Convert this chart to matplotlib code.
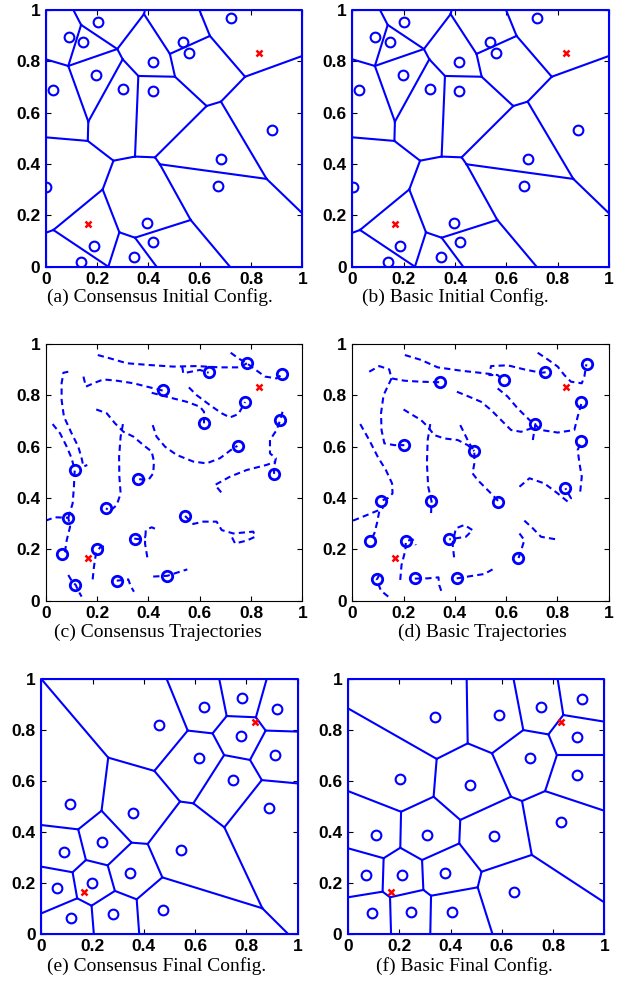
"""
Six-panel comparison of consensus vs. basic coverage control:
initial Voronoi configuration, agent trajectories, final Voronoi configuration.
"""

import matplotlib
matplotlib.use("Agg")
import matplotlib.pyplot as plt

BLUE = "#0000ff"
RED = "#ff0000"

# red x markers (same in every panel)
TARGET_X = [0.166, 0.833]
TARGET_Y = [0.166, 0.833]

# initial agent positions (a), (b)
INIT_X = [0.090, 0.147, 0.203, 0.027, 0.197, 0.301, 0.417, 0.417, 0.536, 0.558,
          0.721, 0.881, 0.684, 0.670, 0.003, 0.187, 0.138, 0.345, 0.418, 0.396]
INIT_Y = [0.894, 0.874, 0.955, 0.688, 0.748, 0.691, 0.799, 0.684, 0.877, 0.831,
          0.968, 0.532, 0.419, 0.314, 0.309, 0.082, 0.017, 0.038, 0.096, 0.169]

# final agent positions, consensus (c), (e)
CONS_X = [0.784, 0.920, 0.636, 0.459, 0.777, 0.616, 0.913, 0.748, 0.890, 0.113,
          0.358, 0.235, 0.544, 0.087, 0.347, 0.198, 0.063, 0.116, 0.279, 0.473]
CONS_Y = [0.926, 0.884, 0.890, 0.819, 0.776, 0.692, 0.703, 0.604, 0.494, 0.510,
          0.474, 0.360, 0.330, 0.322, 0.242, 0.201, 0.181, 0.062, 0.078, 0.096]

# final agent positions, basic (d), (f)
BASIC_X = [0.914, 0.753, 0.590, 0.341, 0.892, 0.712, 0.892, 0.201, 0.476, 0.830,
           0.110, 0.308, 0.569, 0.070, 0.210, 0.378, 0.648, 0.095, 0.246, 0.407]
BASIC_Y = [0.922, 0.891, 0.858, 0.853, 0.774, 0.689, 0.624, 0.608, 0.584, 0.438,
           0.389, 0.389, 0.386, 0.233, 0.233, 0.240, 0.166, 0.083, 0.087, 0.088]

# Voronoi vertices / edges of the initial configuration
VOR_INIT_X = [0.108, 0.138, 0.088, 0.0, 0.279, 0.300, 0.383, 0.387, 0.484, 0.504,
              0.361, 0.348, 0.426, 0.264, 0.166, 0.164, 0.0, 0.627, 0.683, 0.777,
              1.0, 0.640, 0.599, 0.861, 1.0, 0.445, 0.565, 0.718, 0.348, 0.287,
              0.432, 0.244, 0.222, 0.030, 0.0]
VOR_INIT_Y = [1.0, 0.942, 0.782, 0.808, 0.848, 0.808, 0.984, 1.0, 0.829, 0.740,
              0.743, 0.429, 0.426, 0.413, 0.565, 0.490, 0.504, 0.626, 0.643, 0.740,
              0.821, 0.899, 1.0, 0.342, 0.208, 0.399, 0.182, 0.0, 0.113, 0.134,
              0.0, 0.0, 0.301, 0.143, 0.132]
VOR_INIT_EDGES = [(0, 1), (1, 2), (2, 3), (1, 4), (2, 4), (4, 6), (6, 7), (4, 5),
                  (5, 10), (5, 14), (2, 14), (14, 15), (15, 16), (15, 13), (13, 11),
                  (11, 12), (11, 10), (10, 9), (9, 8), (8, 6), (8, 21), (21, 22),
                  (21, 19), (19, 20), (19, 18), (18, 17), (17, 9), (17, 12), (12, 25),
                  (18, 23), (23, 24), (23, 25), (25, 26), (26, 27), (26, 28), (28, 29),
                  (28, 30), (29, 31), (29, 32), (32, 13), (32, 33), (33, 34), (33, 31)]

# Voronoi of consensus final configuration
VOR_CONS_X = [0.0, 0.261, 0.441, 0.571, 0.489, 0.668, 0.723, 0.694, 0.837, 0.879,
              0.875, 1.0, 0.814, 0.713, 0.860, 1.0, 0.714, 0.593, 0.541, 0.415,
              0.352, 0.235, 0.144, 0.0, 0.174, 0.259, 0.122, 0.0, 0.140, 0.0,
              0.196, 0.205, 0.287, 0.372, 0.382, 0.472, 0.862, 0.964]
VOR_CONS_Y = [1.0, 0.692, 0.640, 0.798, 1.0, 0.787, 0.855, 1.0, 0.850, 1.0,
              0.798, 0.794, 0.683, 0.702, 0.604, 0.591, 0.419, 0.513, 0.520, 0.354,
              0.359, 0.484, 0.411, 0.428, 0.291, 0.270, 0.243, 0.265, 0.141, 0.082,
              0.112, 0.0, 0.170, 0.137, 0.0, 0.223, 0.102, 0.0]
VOR_CONS_EDGES = [(0, 1), (1, 2), (2, 3), (3, 4), (3, 5), (5, 6), (6, 7), (6, 8),
                  (8, 9), (8, 10), (10, 11), (10, 12), (5, 13), (13, 12), (12, 14),
                  (14, 15), (14, 16), (16, 17), (17, 13), (17, 18), (18, 2), (18, 19),
                  (16, 36), (36, 37), (36, 35), (35, 19), (35, 33), (33, 34), (33, 32),
                  (32, 25), (32, 30), (30, 31), (30, 28), (28, 29), (28, 26), (26, 27),
                  (26, 24), (24, 25), (24, 22), (22, 23), (22, 21), (21, 1), (21, 20),
                  (20, 19), (20, 25)]

# Voronoi of basic final configuration
VOR_BASIC_X = [0.0, 0.346, 0.463, 0.467, 0.562, 0.646, 0.684, 0.818, 0.840, 1.0,
               0.782, 0.815, 1.0, 0.769, 1.0, 0.679, 0.636, 0.334, 0.438, 0.207,
               0.0, 0.204, 0.139, 0.0, 0.289, 0.434, 0.521, 0.717, 1.0, 0.506,
               0.564, 0.324, 0.321, 0.294, 0.164, 0.168, 0.135, 0.0]
VOR_BASIC_Y = [0.885, 0.687, 1.0, 0.748, 0.709, 1.0, 0.800, 1.0, 0.859, 0.833,
               0.783, 0.702, 0.702, 0.561, 0.484, 0.522, 0.539, 0.539, 0.448, 0.480,
               0.561, 0.339, 0.298, 0.337, 0.291, 0.356, 0.245, 0.311, 0.125, 0.184,
               0.0, 0.151, 0.0, 0.174, 0.145, 0.0, 0.167, 0.145]
VOR_BASIC_EDGES = [(0, 1), (1, 3), (3, 2), (3, 4), (4, 6), (6, 5), (6, 10), (10, 8),
                   (8, 7), (8, 9), (10, 11), (11, 12), (11, 13), (13, 14), (13, 15),
                   (15, 16), (16, 4), (16, 18), (18, 17), (17, 1), (17, 19), (19, 20),
                   (19, 21), (21, 22), (22, 23), (22, 36), (21, 24), (24, 25), (25, 18),
                   (25, 26), (26, 29), (26, 27), (27, 15), (27, 28), (29, 30), (29, 31),
                   (31, 32), (31, 33), (33, 24), (33, 34), (34, 35), (34, 36), (36, 37)]

# trajectories, consensus (c): list of (xs, ys)
CONS_TRAJ = [
    ([0.203, 0.251, 0.316, 0.406, 0.497, 0.588, 0.679, 0.757, 0.784],
     [0.957, 0.944, 0.925, 0.918, 0.912, 0.914, 0.909, 0.909, 0.925]),
    ([0.721, 0.751, 0.784, 0.816, 0.855, 0.900, 0.922],
     [0.966, 0.944, 0.925, 0.901, 0.873, 0.866, 0.882]),
    ([0.088, 0.069, 0.062, 0.062, 0.071, 0.101, 0.127, 0.140, 0.147, 0.162],
     [0.892, 0.888, 0.847, 0.782, 0.717, 0.652, 0.600, 0.555, 0.522, 0.529]),
    ([0.027, 0.056, 0.082, 0.101, 0.113, 0.110, 0.105, 0.088],
     [0.688, 0.652, 0.600, 0.555, 0.509, 0.444, 0.379, 0.323]),
    ([0.000, 0.036, 0.088, 0.095, 0.082, 0.075, 0.062],
     [0.312, 0.325, 0.323, 0.288, 0.236, 0.191, 0.181]),
    ([0.147, 0.157, 0.186, 0.225, 0.277, 0.342, 0.394, 0.458],
     [0.873, 0.834, 0.847, 0.862, 0.857, 0.847, 0.834, 0.818]),
    ([0.413, 0.497, 0.549, 0.601, 0.617, 0.617],
     [0.810, 0.788, 0.775, 0.756, 0.736, 0.691]),
    ([0.558, 0.588, 0.640, 0.686, 0.718, 0.751, 0.777],
     [0.831, 0.801, 0.762, 0.730, 0.714, 0.727, 0.774]),
    ([0.532, 0.536, 0.601, 0.635],
     [0.912, 0.886, 0.899, 0.888]),
    ([0.197, 0.238, 0.270, 0.303, 0.342, 0.381, 0.413, 0.422, 0.419, 0.400, 0.358],
     [0.745, 0.730, 0.691, 0.658, 0.639, 0.606, 0.581, 0.542, 0.496, 0.470, 0.474]),
    ([0.301, 0.292, 0.286, 0.287, 0.292, 0.277, 0.251, 0.235],
     [0.688, 0.639, 0.561, 0.483, 0.418, 0.373, 0.349, 0.360]),
    ([0.417, 0.432, 0.465, 0.510, 0.575, 0.627, 0.679, 0.731, 0.747],
     [0.684, 0.639, 0.600, 0.568, 0.542, 0.535, 0.555, 0.594, 0.603]),
    ([0.923, 0.913, 0.900, 0.874, 0.874, 0.897, 0.890, 0.890],
     [0.736, 0.701, 0.665, 0.626, 0.574, 0.555, 0.522, 0.494]),
    ([0.684, 0.660, 0.718, 0.783, 0.861, 0.897],
     [0.422, 0.451, 0.483, 0.509, 0.529, 0.542]),
    ([0.543, 0.575, 0.614, 0.666, 0.686, 0.731, 0.809, 0.816, 0.783, 0.738, 0.725],
     [0.330, 0.299, 0.308, 0.308, 0.275, 0.262, 0.269, 0.249, 0.234, 0.223, 0.249]),
    ([0.396, 0.387, 0.390, 0.413, 0.439],
     [0.169, 0.223, 0.275, 0.286, 0.275]),
    ([0.345, 0.368, 0.390],
     [0.242, 0.239, 0.249]),
    ([0.419, 0.474, 0.523, 0.552],
     [0.094, 0.097, 0.113, 0.122]),
    ([0.183, 0.188, 0.196, 0.212, 0.238],
     [0.083, 0.132, 0.184, 0.208, 0.214]),
    ([0.088, 0.101, 0.117, 0.129, 0.140],
     [0.100, 0.078, 0.061, 0.035, 0.016]),
    ([0.277, 0.322, 0.331, 0.344],
     [0.078, 0.083, 0.057, 0.035]),
]

# trajectories, basic (d)
BASIC_TRAJ = [
    ([0.205, 0.268, 0.333, 0.424, 0.515, 0.567, 0.590],
     [0.957, 0.938, 0.909, 0.896, 0.886, 0.879, 0.857]),
    ([0.550, 0.534, 0.541, 0.606, 0.671, 0.736, 0.756],
     [0.879, 0.879, 0.914, 0.917, 0.901, 0.888, 0.890]),
    ([0.723, 0.762, 0.801, 0.827, 0.853, 0.895, 0.905, 0.913],
     [0.966, 0.940, 0.912, 0.879, 0.853, 0.847, 0.873, 0.921]),
    ([0.066, 0.105, 0.144, 0.153, 0.203, 0.268, 0.343],
     [0.892, 0.914, 0.901, 0.866, 0.857, 0.853, 0.851]),
    ([0.153, 0.122, 0.112, 0.114, 0.125, 0.164, 0.203],
     [0.866, 0.801, 0.730, 0.665, 0.613, 0.606, 0.606]),
    ([0.031, 0.066, 0.099, 0.131, 0.155, 0.157, 0.138, 0.109],
     [0.688, 0.626, 0.561, 0.509, 0.457, 0.418, 0.399, 0.388]),
    ([0.003, 0.053, 0.099, 0.122],
     [0.312, 0.332, 0.351, 0.364]),
    ([0.105, 0.096, 0.086, 0.070],
     [0.347, 0.301, 0.262, 0.232]),
    ([0.200, 0.229, 0.268, 0.294, 0.320, 0.359, 0.411, 0.450, 0.476],
     [0.745, 0.727, 0.704, 0.678, 0.645, 0.632, 0.626, 0.606, 0.583]),
    ([0.304, 0.294, 0.291, 0.296, 0.309, 0.307],
     [0.688, 0.626, 0.535, 0.444, 0.388, 0.334]),
    ([0.421, 0.437, 0.456, 0.476, 0.476, 0.469, 0.489, 0.515, 0.541, 0.571],
     [0.684, 0.652, 0.613, 0.583, 0.535, 0.496, 0.470, 0.444, 0.418, 0.386]),
    ([0.408, 0.450, 0.502, 0.541, 0.580, 0.619, 0.658, 0.697, 0.714, 0.704],
     [0.814, 0.797, 0.775, 0.743, 0.704, 0.665, 0.658, 0.671, 0.688, 0.626]),
    ([0.567, 0.606, 0.645, 0.691, 0.736, 0.801, 0.866, 0.879, 0.895],
     [0.827, 0.795, 0.749, 0.704, 0.665, 0.655, 0.665, 0.717, 0.773]),
    ([0.889, 0.895, 0.886, 0.879, 0.895],
     [0.425, 0.483, 0.535, 0.587, 0.623]),
    ([0.652, 0.691, 0.749, 0.801, 0.840, 0.853, 0.831],
     [0.444, 0.477, 0.457, 0.418, 0.386, 0.399, 0.438]),
    ([0.671, 0.704, 0.736, 0.795],
     [0.312, 0.282, 0.249, 0.239]),
    ([0.652, 0.671, 0.661, 0.648],
     [0.262, 0.236, 0.204, 0.165]),
    ([0.397, 0.391, 0.404, 0.437, 0.469, 0.443, 0.378],
     [0.169, 0.223, 0.282, 0.295, 0.275, 0.249, 0.239]),
    ([0.407, 0.463, 0.515, 0.547],
     [0.087, 0.096, 0.104, 0.122]),
    ([0.187, 0.192, 0.207, 0.209, 0.235, 0.248],
     [0.081, 0.139, 0.197, 0.232, 0.239, 0.217]),
    ([0.140, 0.112, 0.095, 0.105],
     [0.016, 0.039, 0.081, 0.100]),
    ([0.244, 0.294, 0.336, 0.339, 0.348],
     [0.086, 0.087, 0.091, 0.061, 0.035]),
]

CAPTIONS = [
    "(a) Consensus Initial Config.",
    "(b) Basic Initial Config.",
    "(c) Consensus Trajectories",
    "(d) Basic Trajectories",
    "(e) Consensus Final Config.",
    "(f) Basic Final Config.",
]

TICKS = [0, 0.2, 0.4, 0.6, 0.8, 1]
TICK_LABELS = ["0", "0.2", "0.4", "0.6", "0.8", "1"]

W, H = 623, 996
# axes boxes in pixels: left, top, right, bottom
BOXES = [
    (45.7, 10.0, 302.3, 266.7),
    (352.3, 10.0, 609.0, 266.7),
    (45.7, 344.0, 302.3, 600.7),
    (352.3, 344.0, 608.7, 600.7),
    (41.3, 679.0, 297.7, 934.3),
    (348.0, 679.0, 604.3, 934.3),
]
CAPTION_POS = [(160, 297), (455, 297), (158, 632), (482, 632), (157, 966), (464, 966)]


def style_axes(ax):
    ax.set_xlim(0, 1)
    ax.set_ylim(0, 1)
    ax.set_xticks(TICKS)
    ax.set_yticks(TICKS)
    tick_font = dict(fontweight="bold", family="Liberation Sans", fontsize=12.5)
    ax.set_xticklabels(TICK_LABELS, **tick_font)
    ax.set_yticklabels(TICK_LABELS, **tick_font)
    ax.tick_params(direction="in", length=3.5, width=0.8, top=True, right=True)
    ax.tick_params(axis="x", pad=3.5)
    ax.tick_params(axis="y", pad=4)
    for sp in ax.spines.values():
        sp.set_linewidth(0.8)


def draw_voronoi(ax, vx, vy, edges, px, py):
    ax.plot([0, 1, 1, 0, 0], [0, 0, 1, 1, 0], color=BLUE, lw=1.5, clip_on=False, zorder=3)
    for i, j in edges:
        ax.plot([vx[i], vx[j]], [vy[i], vy[j]], color=BLUE, lw=1.5, zorder=2)
    ax.plot(px, py, "o", mfc="none", mec=BLUE, ms=7, mew=1.5, zorder=4)
    ax.plot(TARGET_X, TARGET_Y, "x", color=RED, ms=5, mew=1.8, zorder=5)


def draw_traj(ax, trajs, px, py):
    for xs, ys in trajs:
        ax.plot(xs, ys, color=BLUE, lw=1.5, linestyle=(0, (3.0, 2.0)), zorder=2)
    ax.plot(px, py, "o", mfc="none", mec=BLUE, ms=7.5, mew=2.0, zorder=4)
    ax.plot(TARGET_X, TARGET_Y, "x", color=RED, ms=5, mew=1.8, zorder=5)


fig = plt.figure(figsize=(W / 100, H / 100), dpi=100)
axes = []
for (l, t, r, b) in BOXES:
    axes.append(fig.add_axes([l / W, 1 - b / H, (r - l) / W, (b - t) / H]))

draw_voronoi(axes[0], VOR_INIT_X, VOR_INIT_Y, VOR_INIT_EDGES, INIT_X, INIT_Y)
draw_voronoi(axes[1], VOR_INIT_X, VOR_INIT_Y, VOR_INIT_EDGES, INIT_X, INIT_Y)
draw_traj(axes[2], CONS_TRAJ, CONS_X, CONS_Y)
draw_traj(axes[3], BASIC_TRAJ, BASIC_X, BASIC_Y)
draw_voronoi(axes[4], VOR_CONS_X, VOR_CONS_Y, VOR_CONS_EDGES, CONS_X, CONS_Y)
draw_voronoi(axes[5], VOR_BASIC_X, VOR_BASIC_Y, VOR_BASIC_EDGES, BASIC_X, BASIC_Y)

for ax in axes:
    style_axes(ax)

for cap, (cx, cy) in zip(CAPTIONS, CAPTION_POS):
    fig.text(cx / W, 1 - cy / H, cap, ha="center", va="center",
             family="Liberation Serif", fontsize=14)

fig.savefig("out.png", dpi=100)
